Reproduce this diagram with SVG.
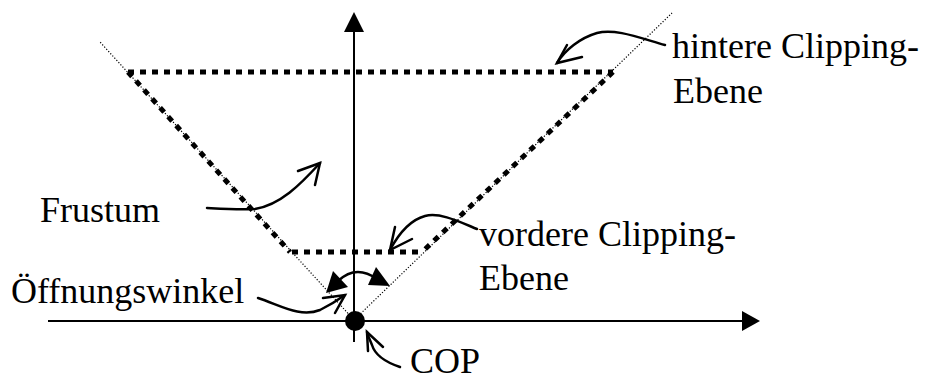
<svg xmlns="http://www.w3.org/2000/svg" width="928" height="380" viewBox="0 0 928 380">
<defs>
<style>
.txt{font-family:"Liberation Serif","Times New Roman",serif;font-size:36px;fill:#000}
.axis{stroke:#000;stroke-width:2;fill:none}
.thin{stroke:#000;stroke-width:1.2;stroke-dasharray:1.2,1.8;fill:none}
.thick{stroke:#000;stroke-width:5;stroke-dasharray:6,6;fill:none}
.ann{stroke:#000;stroke-width:2.5;fill:none;stroke-linecap:round}
.head{fill:#000;stroke:none}
</style>
</defs>
<rect width="928" height="380" fill="#fff"/>
<g id="connectors">
<line class="axis" x1="48" y1="321" x2="744" y2="321"/>
<polygon class="head" points="760,321 742,311 742,331"/>
<line class="axis" x1="354" y1="342" x2="354" y2="30"/>
<polygon class="head" points="354,12 344,32 364,32"/>
<line class="thin" x1="354" y1="320" x2="100" y2="42"/>
<line class="thin" x1="354" y1="320" x2="672" y2="13"/>
</g>
<g id="frustum">
<line class="thick" x1="128" y1="72" x2="613" y2="72"/>
<line class="thick" x1="128" y1="72" x2="290" y2="252"/>
<line class="thick" x1="613" y1="72" x2="422" y2="252"/>
<line class="thick" x1="292" y1="252" x2="422" y2="252"/>
</g>
<g id="cop-point">
<circle cx="355" cy="321" r="10" fill="#000"/>
</g>
<g id="angle-arrow">
<path class="ann" d="M338,281 Q356,264 377,279"/>
<polygon class="head" points="326,293 333,271 348,287"/>
<polygon class="head" points="390,286 376,267 368,285"/>
</g>
<g id="label-hintere">
<path class="ann" d="M665,45 C640,38 615,28 597,33 C580,38 565,50 557,63"/>
<path class="ann" d="M567,45 L557,63 L582,57"/>
<text class="txt" x="672" y="58">hintere Clipping-</text>
<text class="txt" x="673" y="103">Ebene</text>
</g>
<g id="label-vordere">
<path class="ann" d="M477,229 C460,222 440,212 425,216 C410,220 398,235 390,250"/>
<path class="ann" d="M395,227 L390,250 L412,239"/>
<text class="txt" x="479" y="246">vordere Clipping-</text>
<text class="txt" x="479" y="290">Ebene</text>
</g>
<g id="label-frustum">
<path class="ann" d="M207,208 C225,209 240,210 255,209 C280,205 300,185 320,163"/>
<path class="ann" d="M298,171 L320,163 L315,185"/>
<text class="txt" x="40" y="222">Frustum</text>
</g>
<g id="label-oeffnungswinkel">
<path class="ann" d="M258,298 C280,305 300,318 320,310 C330,305 338,300 345,295"/>
<path class="ann" d="M323,298 L345,295 L335,313"/>
<text class="txt" x="11" y="303">Öffnungswinkel</text>
</g>
<g id="label-cop">
<path class="ann" d="M400,367 C385,362 375,355 372,345 C370,340 368,336 367,332"/>
<path class="ann" d="M368,351 L367,332 L383,347"/>
<text class="txt" x="410" y="373">COP</text>
</g>
</svg>
